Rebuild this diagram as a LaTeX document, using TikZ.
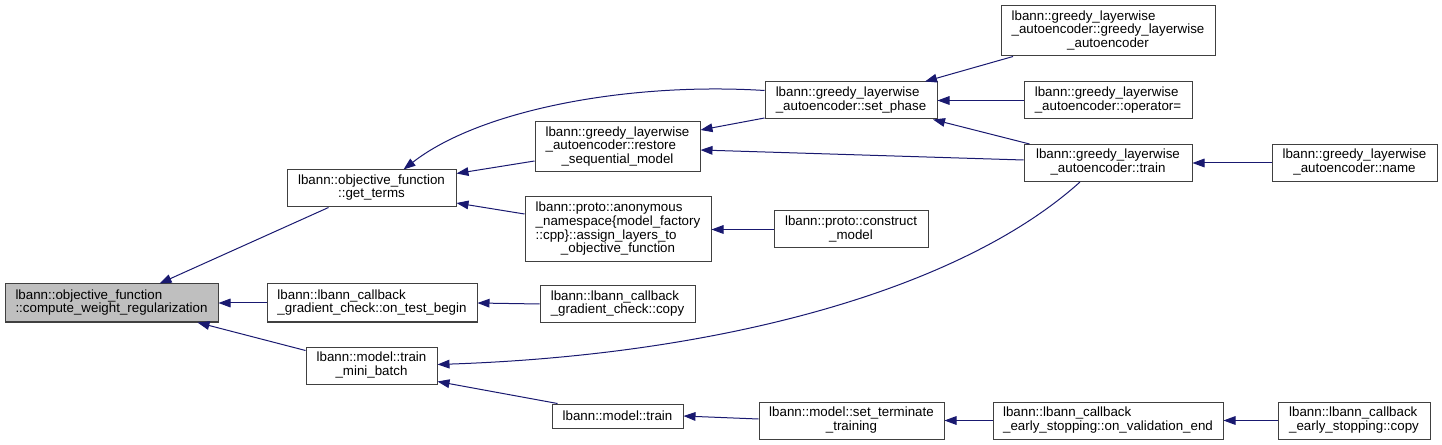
\documentclass[tikz,border=0pt]{standalone}
\usepackage{fontspec}
\setmainfont{Liberation Sans}
\usetikzlibrary{arrows.meta,calc}
\definecolor{navy}{HTML}{191970}
\newcommand\lbl[2]{\begin{tabular}{@{}l@{}}#1\\\multicolumn{1}{@{}c@{}}{#2}\end{tabular}}

\begin{document}
\begin{tikzpicture}[x=0.75pt,y=-0.75pt,
    fn/.style 2 args={draw=black!75,line width=0.75pt,fill=white,inner sep=0pt,
      minimum width=#1*0.75pt,minimum height=#2*0.75pt,font=\fontsize{10}{10}\selectfont},
    call/.style={draw=navy,line width=0.75pt,-{Triangle[length=9pt,width=6.5pt]}}]
	\useasboundingbox (0,0) rectangle (1442,445);

	% column 1
	\node[fn={213}{38},fill=black!25] (comp) at (111.5,303) {\lbl{lbann::objective\_function}{::compute\_weight\_regularization}};

	% column 2
	\node[fn={169}{37}] (gt) at (371.5,188.5) {\lbl{lbann::objective\_function}{::get\_terms}};
	\node[fn={210}{38}] (otb) at (372,303) {\lbl{lbann::lbann\_callback}{\_gradient\_check::on\_test\_begin}};
	\node[fn={131}{37}] (tmb) at (371.5,365.5) {\lbl{lbann::model::train}{\_mini\_batch}};

	% column 3
	\node[fn={165}{50}] (restore) at (617.5,147) {\lbl{lbann::greedy\_layerwise\\\_autoencoder::restore}{\_sequential\_model}};
	\node[fn={186}{65}] (assign) at (618,229.5) {\lbl{lbann::proto::anonymous\\\_namespace\{model\_factory\\::cpp\}::assign\_layers\_to}{\_objective\_function}};
	\node[fn={155}{37}] (gccopy) at (617.5,304) {\lbl{lbann::lbann\_callback}{\_gradient\_check::copy}};
	\node[fn={131}{24}] (mtrain) at (617.5,416) {lbann::model::train};

	% column 4
	\node[fn={172}{37}] (sp) at (851,100.5) {\lbl{lbann::greedy\_layerwise}{\_autoencoder::set\_phase}};
	\node[fn={154}{37}] (construct) at (851,229.5) {\lbl{lbann::proto::construct}{\_model}};
	\node[fn={185}{37}] (st) at (851.5,420.5) {\lbl{lbann::model::set\_terminate}{\_training}};

	% column 5
	\node[fn={214}{50}] (ctor) at (1108,31) {\lbl{lbann::greedy\_layerwise\\\_autoencoder::greedy\_layerwise}{\_autoencoder}};
	\node[fn={168}{37}] (opeq) at (1108,100.5) {\lbl{lbann::greedy\_layerwise}{\_autoencoder::operator=}};
	\node[fn={168}{37}] (gtrain) at (1108,163) {\lbl{lbann::greedy\_layerwise}{\_autoencoder::train}};
	\node[fn={230}{37}] (valend) at (1108,420.5) {\lbl{lbann::lbann\_callback}{\_early\_stopping::on\_validation\_end}};

	% column 6
	\node[fn={165}{37}] (name) at (1354.5,163) {\lbl{lbann::greedy\_layerwise}{\_autoencoder::name}};
	\node[fn={152}{37}] (escopy) at (1354,420.5) {\lbl{lbann::lbann\_callback}{\_early\_stopping::copy}};

	% calls
	\draw[call] ($(gt.south)+(-43,0)$) -- ($(comp.north)+(48,0)$);
	\draw[call] (otb.west) -- (comp.east);
	\draw[call] ($(tmb.west)+(0,-15)$) -- ($(comp.south)+(86,0)$);

	\draw[call] ($(restore.west)+(0,14)$) -- ($(gt.east)+(0,-15)$);
	\draw[call] ($(assign.west)+(0,-15.5)$) -- ($(gt.east)+(0,14.5)$);
	\draw[call] ($(sp.west)+(0,-10)$) .. controls +(-135,-8.5) and +(77,-60) .. ($(gt.north)+(32,0)$);
	\draw[call] (gccopy.west) -- (otb.east);
	\draw[call] ($(gtrain.south)+(-28,0)$) .. controls +(-120,108) and +(283,-9.5) .. ($(tmb.east)+(0,-1)$);
	\draw[call] ($(mtrain.north west)+(6,0)$) -- ($(tmb.east)+(0,16)$);

	\draw[call] ($(sp.west)+(0,17.5)$) -- ($(restore.east)+(0,-17)$);
	\draw[call] ($(gtrain.west)+(0,-3)$) -- ($(restore.east)+(0,3)$);
	\draw[call] (construct.west) -- (assign.east);
	\draw[call] ($(st.west)+(0,-1.5)$) -- (mtrain.east);

	\draw[call] ($(ctor.south)+(-95,0)$) -- ($(sp.north)+(74,0)$);
	\draw[call] (opeq.west) -- (sp.east);
	\draw[call] ($(gtrain.north west)+(6,0)$) -- ($(sp.south)+(82,0)$);
	\draw[call] (valend.west) -- (st.east);

	\draw[call] (name.west) -- (gtrain.east);
	\draw[call] (escopy.west) -- (valend.east);
\end{tikzpicture}
\end{document}
